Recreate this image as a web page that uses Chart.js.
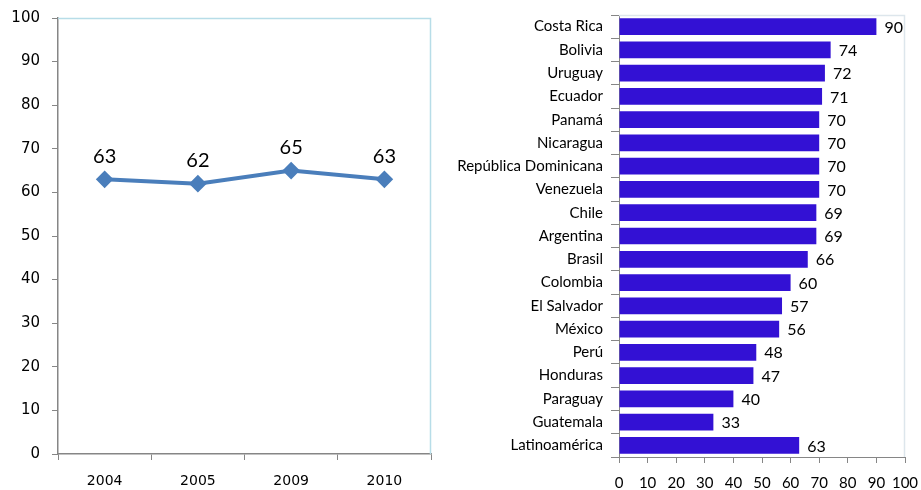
<!DOCTYPE html>
<html>
<head>
<meta charset="utf-8">
<script src="https://cdn.jsdelivr.net/npm/chart.js@4"></script>
<style>
  body { margin: 0; background: #fff; }
  .wrap { position: relative; width: 921px; height: 490px; overflow: hidden; }
  #lineChart { position: absolute; left: 0; top: 0; }
  #barChart { position: absolute; left: 450px; top: 0; }
</style>
</head>
<body>
<div class="wrap">
  <canvas id="lineChart" width="450" height="490"></canvas>
  <canvas id="barChart" width="471" height="490"></canvas>
</div>
<script>
// left chart: yearly values
const years = ['2004', '2005', '2009', '2010'];
const yearValues = [63, 62, 65, 63];

// right chart: countries
const countries = [
  'Costa Rica', 'Bolivia', 'Uruguay', 'Ecuador', 'Panamá', 'Nicaragua',
  'República Dominicana', 'Venezuela', 'Chile', 'Argentina', 'Brasil',
  'Colombia', 'El Salvador', 'México', 'Perú', 'Honduras', 'Paraguay',
  'Guatemala', 'Latinoamérica'
];
const countryValues = [90, 74, 72, 71, 70, 70, 70, 70, 69, 69, 66, 60, 57, 56, 48, 47, 40, 33, 63];

const axisGrey = '#868686';

// drop the label overhang so layout padding decides the plot area
function noPad(s) {
  s.paddingTop = 0; s.paddingBottom = 0;
  s.paddingLeft = 0; s.paddingRight = 0;
}

// light border on top and right of plot area
const frame = {
  id: 'frame',
  beforeDatasetsDraw(chart, args, opts) {
    const a = chart.chartArea, ctx = chart.ctx;
    ctx.save();
    ctx.strokeStyle = opts.color;
    ctx.lineWidth = 1.5;
    ctx.beginPath();
    ctx.moveTo(a.left, a.top + 0.5);
    ctx.lineTo(a.right - 0.5, a.top + 0.5);
    ctx.lineTo(a.right - 0.5, a.bottom);
    ctx.stroke();
    ctx.restore();
  }
};

// value labels
const valueLabels = {
  id: 'valueLabels',
  afterDatasetsDraw(chart, args, opts) {
    const ctx = chart.ctx;
    const meta = chart.getDatasetMeta(0);
    const vals = chart.data.datasets[0].data;
    ctx.save();
    ctx.fillStyle = '#000';
    ctx.font = opts.font;
    meta.data.forEach((el, i) => {
      if (opts.mode === 'above') {
        ctx.textAlign = 'center';
        ctx.textBaseline = 'middle';
        ctx.fillText(vals[i], el.x, el.y - 23);
      } else {
        ctx.textAlign = 'left';
        ctx.textBaseline = 'middle';
        ctx.fillText(vals[i], el.x + 8, el.y + 1);
      }
    });
    ctx.restore();
  }
};

new Chart(document.getElementById('lineChart'), {
  type: 'line',
  data: {
    labels: years,
    datasets: [{
      data: yearValues,
      borderColor: '#4a7ebb',
      backgroundColor: '#4a7ebb',
      borderWidth: 4,
      pointStyle: 'rectRot',
      pointRadius: 6,
      tension: 0
    }]
  },
  options: {
    responsive: false,
    animation: false,
    devicePixelRatio: 1,
    layout: { padding: { top: 18, right: 19, left: 0, bottom: 0 } },
    plugins: {
      legend: { display: false },
      tooltip: { enabled: false },
      frame: { color: '#b7dde8' },
      valueLabels: { mode: 'above', font: '20px Lato' }
    },
    scales: {
      x: {
        offset: true,
        grid: { offset: true, drawOnChartArea: false, tickLength: 6, color: axisGrey },
        border: { color: axisGrey, width: 1.5 },
        ticks: { color: '#000', font: { family: 'DejaVu Sans', size: 14 }, padding: 13, maxRotation: 0 },
        afterFit(s) { s.height = 36; noPad(s); }
      },
      y: {
        min: 0, max: 100,
        grid: { drawOnChartArea: false, tickLength: 6, color: axisGrey },
        border: { color: axisGrey, width: 1.5 },
        ticks: { stepSize: 10, color: '#000', font: { family: 'DejaVu Sans', size: 15 }, padding: 12 },
        afterFit(s) { s.width = 58; noPad(s); }
      }
    }
  },
  plugins: [frame, valueLabels]
});

new Chart(document.getElementById('barChart'), {
  type: 'bar',
  data: {
    labels: countries,
    datasets: [{
      data: countryValues,
      backgroundColor: '#3311d4',
      categoryPercentage: 1,
      barPercentage: 0.72
    }]
  },
  options: {
    indexAxis: 'y',
    responsive: false,
    animation: false,
    devicePixelRatio: 1,
    layout: { padding: { top: 15, right: 16, left: 0, bottom: 0 } },
    plugins: {
      legend: { display: false },
      tooltip: { enabled: false },
      frame: { color: '#dde6ec' },
      valueLabels: { mode: 'right', font: '16px Lato' }
    },
    scales: {
      x: {
        min: 0, max: 100,
        grid: { drawOnChartArea: false, tickLength: 6, color: axisGrey },
        border: { color: axisGrey },
        ticks: { stepSize: 10, color: '#000', font: { family: 'Lato', size: 15 }, padding: 11, maxRotation: 0, autoSkip: false },
        afterFit(s) { s.height = 33; noPad(s); }
      },
      y: {
        grid: { offset: true, drawOnChartArea: false, tickLength: 8, color: axisGrey },
        border: { color: axisGrey },
        ticks: { color: '#000', font: { family: 'Lato', size: 15 }, padding: 8, autoSkip: false },
        afterFit(s) { s.width = 169; noPad(s); }
      }
    }
  },
  plugins: [frame, valueLabels]
});
</script>
</body>
</html>
